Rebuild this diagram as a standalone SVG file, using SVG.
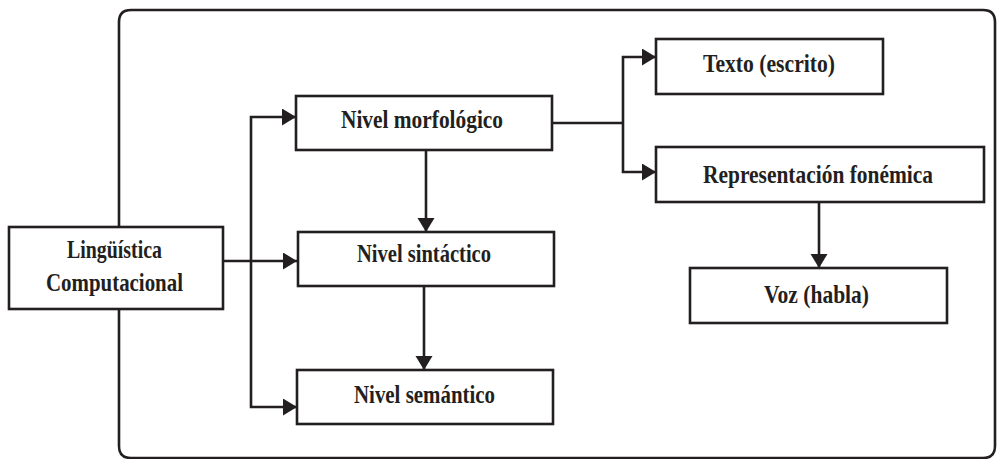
<svg xmlns="http://www.w3.org/2000/svg" width="997" height="459" viewBox="0 0 997 459">
<style>
.box{fill:#fff;stroke:#231f20;stroke-width:2.6}
.ln{fill:none;stroke:#231f20;stroke-width:2.6}
.t{font-family:"Liberation Serif",serif;font-size:26px;font-weight:bold;fill:#231f20;text-anchor:middle}
</style>
<defs>
<marker id="ah" markerUnits="userSpaceOnUse" markerWidth="15" markerHeight="18" refX="14" refY="8.5" orient="auto">
<path d="M0,0 L14,8.5 L0,17 z" fill="#231f20"/>
</marker>
</defs>
<rect width="997" height="459" fill="#fff"/>
<g id="frame">
<path class="ln" d="M119,227 V22 Q119,10 131,10 H983 Q995,10 995,22 V446 Q995,458 983,458 H131 Q119,458 119,446 V309"/>
</g>
<g id="connectors">
<path class="ln" d="M223,261 H297" marker-end="url(#ah)"/>
<path class="ln" d="M251,261 V117 H296" marker-end="url(#ah)"/>
<path class="ln" d="M251,261 V407 H297" marker-end="url(#ah)"/>
<path class="ln" d="M426,150 V232" marker-end="url(#ah)"/>
<path class="ln" d="M424,286 V370" marker-end="url(#ah)"/>
<path class="ln" d="M552,123 H623"/>
<path class="ln" d="M623,123 V57 H656" marker-end="url(#ah)"/>
<path class="ln" d="M623,123 V172 H656" marker-end="url(#ah)"/>
<path class="ln" d="M819,202 V268" marker-end="url(#ah)"/>
</g>
<g id="linguistica">
<rect class="box" x="9" y="227" width="214" height="82"/>
<text class="t" x="114.5" y="258" textLength="95" lengthAdjust="spacingAndGlyphs">Lingüística</text>
<text class="t" x="114.5" y="291" textLength="137" lengthAdjust="spacingAndGlyphs">Computacional</text>
</g>
<g id="morfologico">
<rect class="box" x="296" y="96" width="256" height="54"/>
<text class="t" x="422" y="128" textLength="162" lengthAdjust="spacingAndGlyphs">Nivel morfológico</text>
</g>
<g id="sintactico">
<rect class="box" x="298" y="232" width="256" height="54"/>
<text class="t" x="424" y="262" textLength="134" lengthAdjust="spacingAndGlyphs">Nivel sintáctico</text>
</g>
<g id="semantico">
<rect class="box" x="297" y="370" width="256" height="54"/>
<text class="t" x="424.5" y="403" textLength="141" lengthAdjust="spacingAndGlyphs">Nivel semántico</text>
</g>
<g id="texto">
<rect class="box" x="656" y="39" width="227" height="55"/>
<text class="t" x="769" y="72" textLength="132" lengthAdjust="spacingAndGlyphs">Texto (escrito)</text>
</g>
<g id="representacion">
<rect class="box" x="656" y="147" width="328" height="55"/>
<text class="t" x="818" y="183" textLength="230" lengthAdjust="spacingAndGlyphs">Representación fonémica</text>
</g>
<g id="voz">
<rect class="box" x="690" y="268" width="257" height="55"/>
<text class="t" x="816.5" y="303" textLength="105" lengthAdjust="spacingAndGlyphs">Voz (habla)</text>
</g>
</svg>
